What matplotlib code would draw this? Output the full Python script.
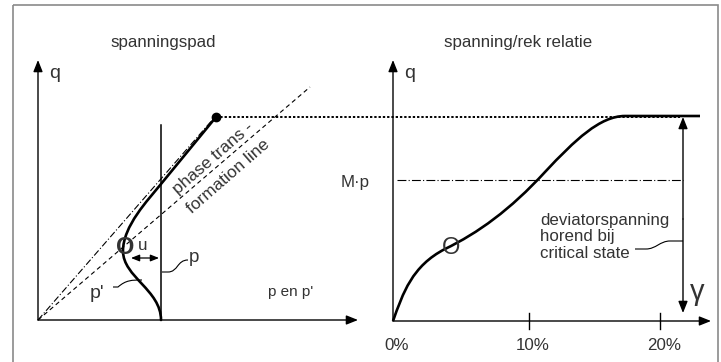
import matplotlib.pyplot as plt
from matplotlib.path import Path
from matplotlib.patches import PathPatch, Rectangle

plt.rcParams['font.family'] = ['Liberation Sans', 'DejaVu Sans']

# schematic drawn in pixel coordinates of the original picture (y downwards)
TXT = '#333333'

# left panel: stress path
origin_l = (38, 320)
top_point = (216, 117)
p_line_x = 161
p_line_y = (125, 320)
phase_line_end = (310, 87)
dashdot_end = (214, 118)
p_prime_pts = [(161, 320), (161, 290), (123, 277), (123, 251),
               (123, 226), (148, 200), (161, 184), (216, 117)]
p_prime_codes = [Path.MOVETO, Path.CURVE4, Path.CURVE4, Path.CURVE4,
                 Path.CURVE4, Path.CURVE4, Path.CURVE4, Path.LINETO]

# right panel: stress/strain
origin_r = (393, 321)
gamma_ticks_x = [393, 529, 660]
gamma_tick_labels = ['0%', '10%', '20%']
curve_pts = [(393, 321), (403, 293), (412, 266), (445, 249),
             (478, 233), (510, 210), (545, 172),
             (575, 140), (600, 116), (625, 116), (700, 116)]
curve_codes = [Path.MOVETO, Path.CURVE4, Path.CURVE4, Path.CURVE4,
               Path.CURVE4, Path.CURVE4, Path.CURVE4,
               Path.CURVE4, Path.CURVE4, Path.CURVE4, Path.LINETO]
mp_y = 180
crit_x = 683


def arrow(ax, start, end, style='-|>', lw=1.0, ms=14):
    ax.annotate('', xy=end, xytext=start,
                arrowprops=dict(arrowstyle=style + ',head_length=0.5,head_width=0.2',
                                lw=lw, color='black', mutation_scale=ms,
                                shrinkA=0, shrinkB=0))


def leader(ax, pts):
    codes = [Path.MOVETO, Path.LINETO, Path.CURVE4, Path.CURVE4, Path.CURVE4, Path.LINETO]
    ax.add_patch(PathPatch(Path(pts, codes[:len(pts)]), fc='none', ec='black', lw=0.8))


fig = plt.figure(figsize=(7.21, 3.62), dpi=100)
ax = fig.add_axes([0, 0, 1, 1])
ax.set_xlim(0, 721)
ax.set_ylim(362, 0)
ax.axis('off')

ax.add_patch(Rectangle((13, 5), 705, 362, fill=False, ec='#8a8a8a', lw=1.2))

# ---- left panel
ax.text(163, 42, 'spanningspad', ha='center', va='center', fontsize=12.2, color=TXT)
arrow(ax, origin_l, (38, 60))
arrow(ax, origin_l, (358, 320))
ax.text(55, 73, 'q', ha='center', va='center', fontsize=14, color=TXT)
ax.text(291, 292, "p en p'", ha='center', va='center', fontsize=11, color=TXT)

ax.plot([p_line_x, p_line_x], p_line_y, color='black', lw=1.1)
ax.plot([origin_l[0], phase_line_end[0]], [origin_l[1], phase_line_end[1]],
        color='black', lw=0.8, dashes=(4, 3))
ax.plot([origin_l[0], dashdot_end[0]], [origin_l[1], dashdot_end[1]],
        color='black', lw=0.8, dashes=(6, 2, 1, 2))
ax.add_patch(PathPatch(Path(p_prime_pts, p_prime_codes), fc='none', ec='black',
                       lw=1.9, capstyle='round'))
ax.plot(*top_point, 'o', color='black', ms=6)
ax.plot([top_point[0], 680], [top_point[1], top_point[1]], color='black', lw=1.4,
        dashes=(1.2, 1))

ax.text(213, 158, 'phase trans -', rotation=41, ha='center', va='center',
        fontsize=12.4, color=TXT, rotation_mode='anchor')
ax.text(228, 176, 'formation line', rotation=41, ha='center', va='center',
        fontsize=12.4, color=TXT, rotation_mode='anchor')

ax.text(125, 247, 'O', ha='center', va='center', fontsize=17, fontweight='bold', color=TXT)
arrow(ax, (131, 258), (159, 258), style='<|-|>', lw=0.9, ms=10)
ax.text(143, 245, 'u', ha='center', va='center', fontsize=12.2, color=TXT)
ax.text(194, 258, 'p', ha='center', va='center', fontsize=13.5, color=TXT)
leader(ax, [(162, 272), (168, 272), (178, 272), (177, 260), (188, 260)])
ax.text(97, 294, "p'", ha='center', va='center', fontsize=14, color=TXT)
leader(ax, [(113, 287), (118, 287), (126, 280), (132, 280), (142, 280)])

# ---- right panel
ax.text(518, 42, 'spanning/rek relatie', ha='center', va='center', fontsize=12.2, color=TXT)
arrow(ax, origin_r, (393, 60))
arrow(ax, origin_r, (711, 321))
ax.text(410, 73, 'q', ha='center', va='center', fontsize=14, color=TXT)
for x, lab in zip(gamma_ticks_x, gamma_tick_labels):
    if x != origin_r[0]:
        ax.plot([x, x], [313, 329], color='black', lw=1.0)
    ax.text(x + 4, 346, lab, ha='center', va='center', fontsize=12.2, color=TXT)

ax.plot([397, crit_x], [mp_y, mp_y], color='black', lw=0.8, dashes=(8, 2, 1, 2))
ax.text(355, 182, 'M·p', ha='center', va='center', fontsize=12.2, color=TXT)

ax.add_patch(PathPatch(Path(curve_pts, curve_codes), fc='none', ec='black', lw=1.9))
ax.text(451, 248, 'O', ha='center', va='center', fontsize=17, color=TXT)

arrow(ax, (crit_x, 219), (crit_x, 117), lw=1.0, ms=14)
arrow(ax, (crit_x, 219), (crit_x, 313), lw=1.0, ms=14)
ax.text(697, 292, 'γ', ha='center', va='center', fontsize=21, color=TXT)

for i, line in enumerate(['deviatorspanning', 'horend bij', 'critical state']):
    ax.text(540, 220 + 16.5 * i, line, ha='left', va='center', fontsize=12.2, color=TXT)
leader(ax, [(635, 249), (646, 249), (656, 249), (660, 241), (670, 241), (683, 241)])

fig.savefig('out.png', dpi=100)
